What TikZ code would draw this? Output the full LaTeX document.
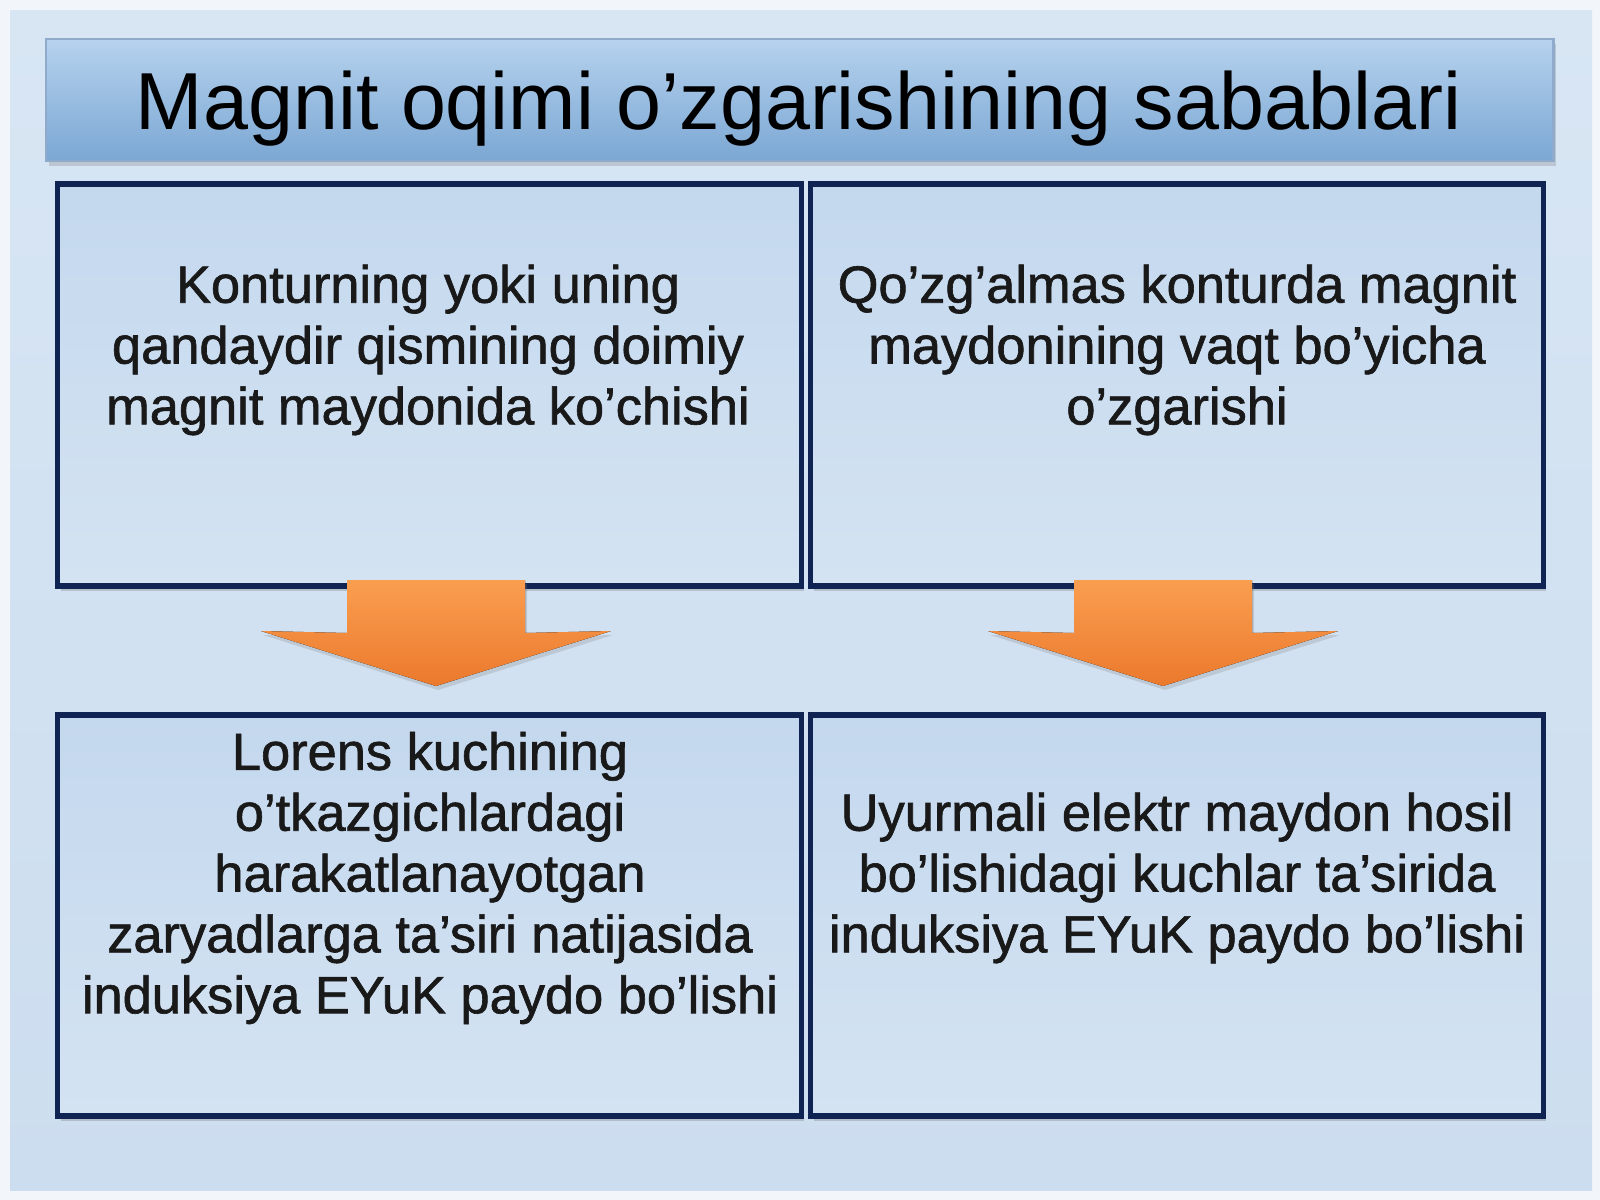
\documentclass[tikz,border=0pt]{standalone}
\usepackage{fontspec}
\setmainfont{Liberation Sans}
\newfontfamily\causefont[FakeBold=1.2]{Liberation Sans}
\usetikzlibrary{shadows}

\definecolor{slideout}{HTML}{F2F6FA}
\definecolor{slidetop}{HTML}{D8E6F4}
\definecolor{slidebot}{HTML}{CCDDEF}
\definecolor{titletop}{HTML}{B6D2EE}
\definecolor{titlebot}{HTML}{7BA7D3}
\definecolor{titleline}{HTML}{8FAACB}
\definecolor{boxline}{HTML}{0F2452}
\definecolor{boxtop}{HTML}{C4D8EE}
\definecolor{boxbot}{HTML}{D4E3F2}
\definecolor{arrowtop}{HTML}{FA9E50}
\definecolor{arrowbot}{HTML}{EB792C}

\begin{document}
\begin{tikzpicture}[x=0.01cm, y=-0.01cm,
    titlebar/.style={minimum width=15.07cm, minimum height=1.22cm, inner sep=0pt,
      top color=titletop, bottom color=titlebot, draw=titleline, line width=0.6pt,
      drop shadow={shadow xshift=0.03cm, shadow yshift=-0.05cm, opacity=0.3}},
    cause/.style={minimum width=7.43cm, minimum height=4.02cm, inner sep=0pt,
      top color=boxtop, bottom color=boxbot, draw=boxline, line width=1.5pt,
      drop shadow={shadow xshift=0.03cm, shadow yshift=-0.05cm, opacity=0.35}},
    causetext/.style={align=center, inner sep=0pt, text=black!90,
      font=\causefont\fontsize{14.9}{17.3}\selectfont},
    dnarrow/.style={top color=arrowtop, bottom color=arrowbot,
      drop shadow={shadow xshift=0.02cm, shadow yshift=-0.04cm, opacity=0.25}}
  ]

    % --- Slide background ---
    \useasboundingbox (0,0) rectangle (1600,1200);
    \fill[slideout] (0,0) rectangle (1600,1200);
    \shade[top color=slidetop, bottom color=slidebot] (10,10) rectangle (1592,1190);

    % --- Title ---
    \node[titlebar] (bar) at (799.5,100) {};
    \node[anchor=base, inner sep=0pt, font=\fontsize{23}{27}\selectfont] (title) at (799,129)
      {Magnit oqimi o’zgarishining sabablari};

    % --- Boxes ---
    \node[cause] (c1) at (429.5,385) {};
    \node[cause, minimum width=7.32cm] (c2) at (1177,385) {};
    \node[cause, minimum height=4.01cm] (e1) at (429.5,915.5) {};
    \node[cause, minimum width=7.32cm, minimum height=4.01cm] (e2) at (1177,915.5) {};

    % --- Texts ---
    \node[causetext] (c1t) at (428,350)
      {Konturning yoki uning\\ qandaydir qismining doimiy\\ magnit maydonida ko’chishi};
    \node[causetext] (c2t) at (1177,350)
      {Qo’zg’almas konturda magnit\\ maydonining vaqt bo’yicha\\ o’zgarishi};
    \node[causetext] (e1t) at (430,878)
      {Lorens kuchining\\ o’tkazgichlardagi\\ harakatlanayotgan\\ zaryadlarga ta’siri natijasida\\ induksiya EYuK paydo bo’lishi};
    \node[causetext] (e2t) at (1177,878)
      {Uyurmali elektr maydon hosil\\ bo’lishidagi kuchlar ta’sirida\\ induksiya EYuK paydo bo’lishi};

    % --- Arrows between the rows ---
    \foreach \a/\cx in {al/436, ar/1163} {
      \coordinate (\a) at (\cx,580);
      \fill[dnarrow] (\a) ++(-89,0) -- ++(178,0) -- ++(0,53) -- ++(86,-2)
        -- (\cx,686) -- ++(-175,-55) -- ++(86,2) -- cycle;
    }

\end{tikzpicture}
\end{document}
